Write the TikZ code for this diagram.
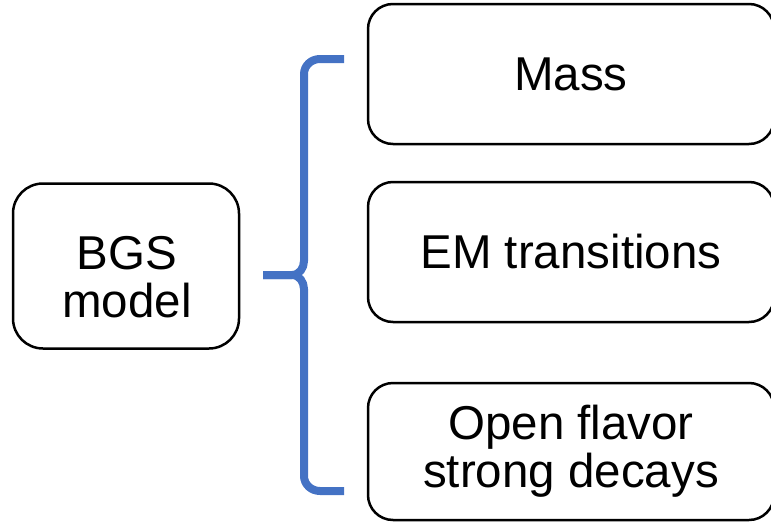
\documentclass[tikz,border=0pt]{standalone}
\usepackage{fontspec}
\setmainfont{Liberation Sans}
\definecolor{braceblue}{HTML}{4472C4}
\begin{document}
\begin{tikzpicture}[x=1pt,y=-1pt,
  txt/.style={align=center, inner sep=0pt, font=\fontsize{47.5}{48}\selectfont},
  box/.style={txt, draw=black, line width=2.5pt, fill=white},
  rbox/.style={box, rounded corners=25pt, minimum width=406pt, minimum height=140pt},
  bracestyle/.style={draw=braceblue, line width=8pt, line join=round}]
\useasboundingbox (0,0) rectangle (771,522);
\node[box, rounded corners=30pt, minimum width=226pt, minimum height=165pt] (bgs) at (126,266) {};
\node[txt] (bgstext) at (127,277) {BGS\\model};
\node[rbox] (mass) at (571,74) {Mass};
\node[rbox] (em) at (571,252) {EM transitions};
\node[rbox, minimum height=137pt] (open) at (571,451.5) {Open flavor\\strong decays};
\coordinate (btop) at (344,59);
\coordinate (bmid) at (263,275);
\coordinate (bbot) at (344,491);
\draw[bracestyle] (btop) -- (320,59) to[out=180,in=90] (304,74) -- (304,261)
  to[out=-90,in=0] (292,275) -- (bmid);
\draw[bracestyle] (bmid) -- (292,275) to[out=0,in=90] (304,289) -- (304,476)
  to[out=-90,in=180] (320,491) -- (bbot);
\end{tikzpicture}
\end{document}
